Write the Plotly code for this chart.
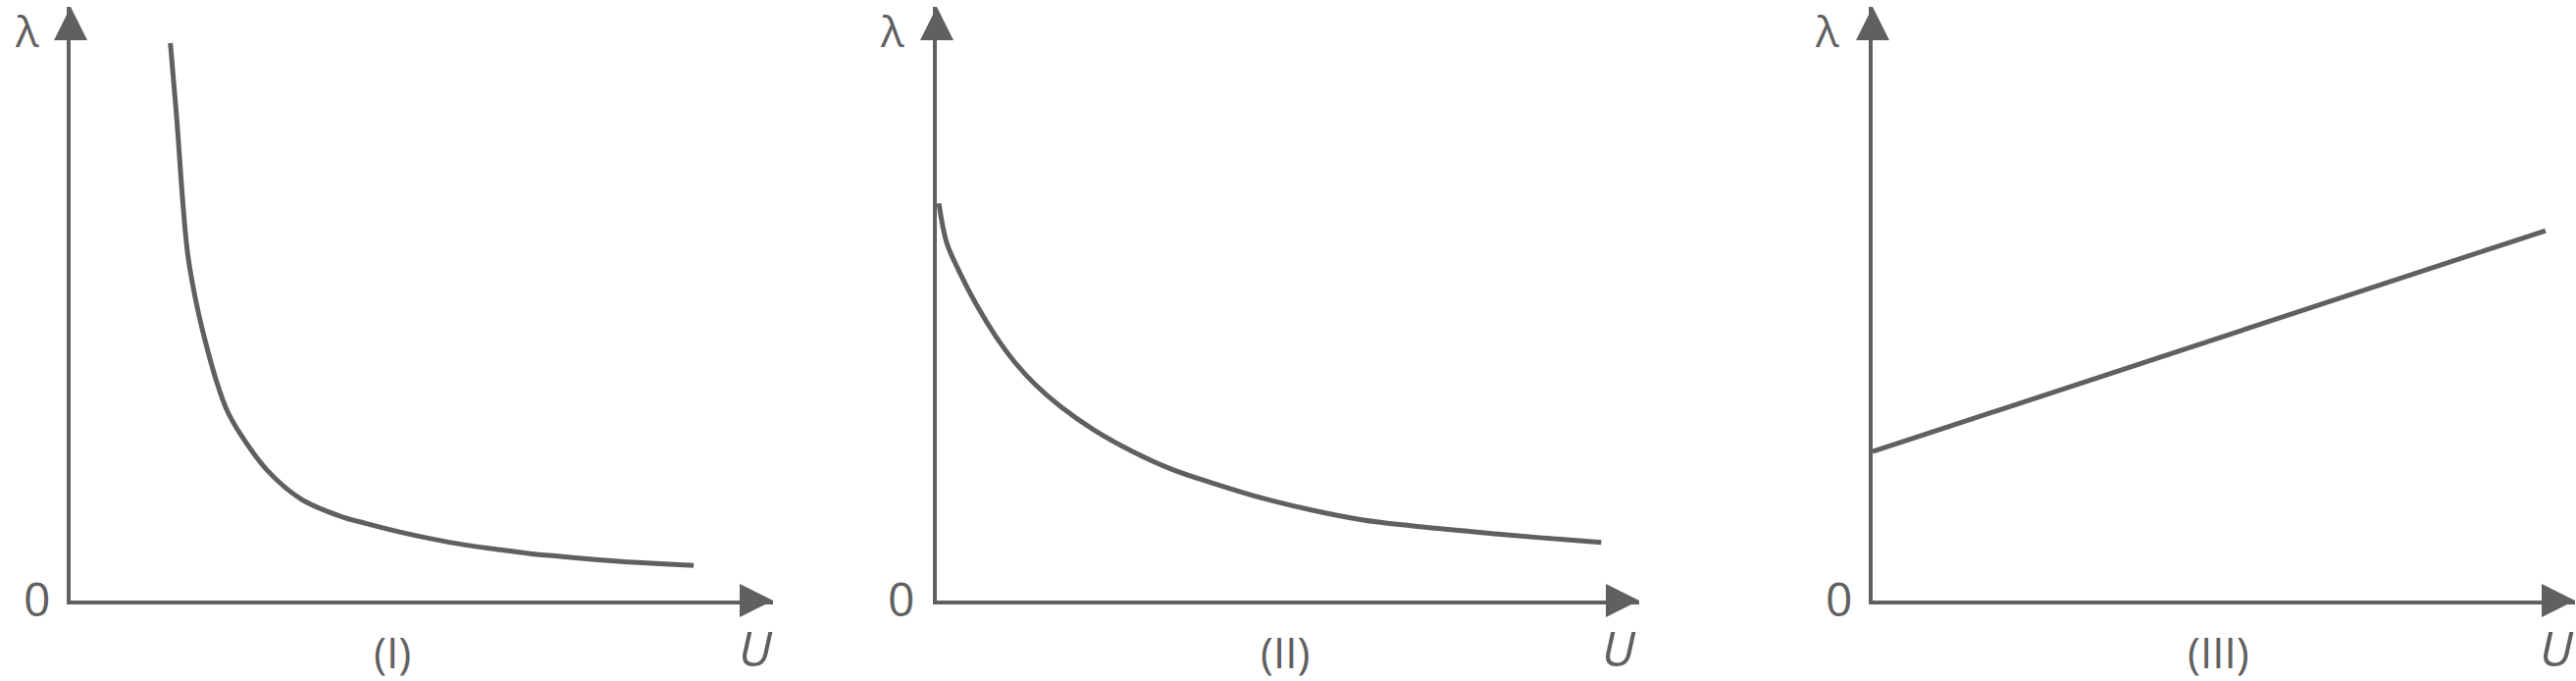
import plotly.graph_objects as go

W, H = 2626, 694
GREY = "rgb(96,96,96)"
FONT = "Open Sans"

# ---- data (U, lambda) in axis units, each axis spans 0..10 ----
panel_labels = ["(I)", "(II)", "(III)"]

u1 = [1.42, 1.51, 1.60, 1.67, 1.79, 1.93, 2.07, 2.22, 2.42, 2.81, 3.28, 3.84,
      4.20, 4.67, 5.14, 5.60, 6.08, 6.54, 7.00, 7.47, 7.93, 8.39, 8.87]
lam1 = [9.39, 8.13, 6.67, 5.81, 5.01, 4.31, 3.72, 3.22, 2.80, 2.18, 1.71, 1.42,
        1.30, 1.16, 1.04, 0.94, 0.86, 0.79, 0.74, 0.69, 0.65, 0.62, 0.59]

u2 = [0.03, 0.14, 0.32, 0.56, 0.84, 1.12, 1.40, 1.77, 2.23, 2.79, 3.35, 3.95,
      4.65, 5.35, 6.05, 6.75, 7.61, 8.07, 9.01, 9.46]
lam2 = [6.69, 6.03, 5.54, 4.99, 4.45, 4.00, 3.64, 3.26, 2.88, 2.51, 2.21, 1.97,
        1.72, 1.52, 1.36, 1.26, 1.16, 1.11, 1.02, 0.98]

u3 = [0.0, 9.58]
lam3 = [2.51, 6.23]

axis_max = 10

# ---- layout geometry (pixels in the 2626x694 page) ----
origins_x = [72, 955, 1909]
axis_len_x = 716
origin_y = 612
top_y = 7


def px(x):
    return x / W


def py(y):
    return 1 - y / H


fig = go.Figure()
series = [(u1, lam1), (u2, lam2), (u3, lam3)]

for i, (u, lam) in enumerate(series):
    n = "" if i == 0 else str(i + 1)
    xa, ya = "x" + n, "y" + n
    fig.add_trace(go.Scatter(
        x=u, y=lam, mode="lines", xaxis=xa, yaxis=ya,
        line=dict(color=GREY, width=5, shape="spline", smoothing=1.0),
        hoverinfo="skip", showlegend=False, cliponaxis=False))
    # arrow heads at the axis ends
    fig.add_trace(go.Scatter(
        x=[axis_max, 0], y=[0, axis_max], mode="markers", xaxis=xa, yaxis=ya,
        marker=dict(symbol=["arrow-right", "arrow-up"], size=34, color=GREY,
                    line=dict(width=0)),
        hoverinfo="skip", showlegend=False, cliponaxis=False))
    x0 = origins_x[i]
    axcommon = dict(showline=True, linecolor=GREY, linewidth=3.5,
                    showgrid=False, zeroline=False, showticklabels=False,
                    ticks="", range=[0, axis_max], fixedrange=True)
    fig.layout["xaxis" + n] = dict(axcommon, domain=[px(x0), px(x0 + axis_len_x)],
                                   anchor=ya)
    fig.layout["yaxis" + n] = dict(axcommon, domain=[py(origin_y), py(top_y)],
                                   anchor=xa)

# ---- text labels ----
lam_x = [27, 910, 1862]
zero_x = [37, 918, 1874]
u_x = [770, 1650, 2606]
cap_x = [400, 1310, 2261]

ann = []
for i in range(3):
    ann.append(dict(text="λ", x=px(lam_x[i]), y=1, xref="paper", yref="paper",
                    showarrow=False, xanchor="center", yanchor="top", borderpad=0,
                    font=dict(family=FONT, size=44, color=GREY)))
    ann.append(dict(text="0", x=px(zero_x[i]), y=py(609), xref="paper", yref="paper",
                    showarrow=False, xanchor="center", yanchor="middle",
                    font=dict(family=FONT, size=48, color=GREY)))
    ann.append(dict(text="<i>U</i>", x=px(u_x[i]), y=py(660), xref="paper", yref="paper",
                    showarrow=False, xanchor="center", yanchor="middle",
                    font=dict(family=FONT, size=50, color=GREY)))
    ann.append(dict(text=panel_labels[i], x=px(cap_x[i]), y=py(664), xref="paper",
                    yref="paper", showarrow=False, xanchor="center", yanchor="middle",
                    font=dict(family=FONT, size=44, color=GREY)))

fig.update_layout(width=W, height=H, margin=dict(l=0, r=0, t=0, b=0),
                  paper_bgcolor="white", plot_bgcolor="white",
                  annotations=ann, showlegend=False)

fig.write_html("out.html", config={"displayModeBar": False},
               post_script="document.body.style.margin='0';"
                           "document.body.style.overflow='hidden';")
